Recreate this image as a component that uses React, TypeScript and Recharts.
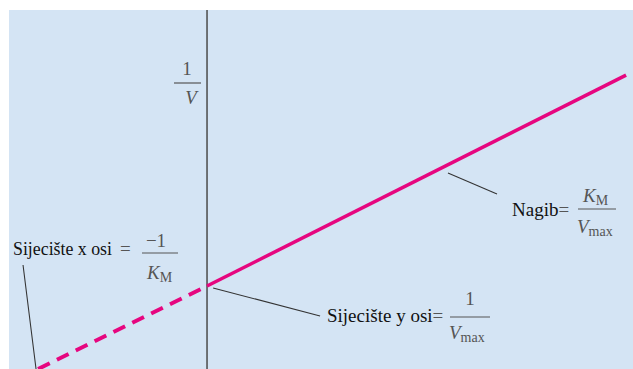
import React from 'react';
import { ComposedChart, Line, XAxis, YAxis, CartesianGrid, ReferenceLine, Customized } from 'recharts';

// Lineweaver-Burk plot, K_M = 1 unit on x, 1/V_max = 1 unit on y
const extrapolated = [
  { x: -1, y: 0 },
  { x: 0, y: 1 },
];
const measured = [
  { x: 0, y: 1 },
  { x: 2.48, y: 3.54 },
];
const X_DOMAIN = [-1.172, 2.521];
const Y_DOMAIN = [0, 4.325];

// leader lines from labels to the line (data coordinates)
const leaders = [
  [{ x: -1.089, y: 1.253 }, { x: -1.012, y: 0 }],
  [{ x: 0.036, y: 0.976 }, { x: 0.669, y: 0.639 }],
  [{ x: 1.426, y: 2.361 }, { x: 1.716, y: 2.108 }],
];

const PINK = '#e6067f';
const BG = '#d4e4f4';
const SERIF = "'Liberation Serif', 'Times New Roman', Times, serif";

const Labels = () => {
  const dark = '#111';
  const grey = '#555';
  const txt = { fontFamily: SERIF, fontSize: 19 };
  const it = { ...txt, fontStyle: 'italic' };
  const sub = { fontFamily: SERIF, fontSize: 14, fontStyle: 'normal' };
  return (
    <g>
      {/* 1/V */}
      <text x={187} y={75} textAnchor="middle" fill={grey} style={txt}>1</text>
      <line x1={174} x2={201} y1={83} y2={83} stroke={grey} strokeWidth={1.2} />
      <text x={191} y={104} textAnchor="middle" fill={grey} style={it}>V</text>

      {/* x intercept */}
      <text x={13} y={255} fill={dark} style={txt} textLength={99} lengthAdjust="spacingAndGlyphs">Sijecište x osi</text>
      <text x={120} y={255} fill={grey} style={txt}>=</text>
      <text x={156} y={247} textAnchor="middle" fill={grey} style={txt}>−1</text>
      <line x1={142} x2={178} y1={253} y2={253} stroke={grey} strokeWidth={1.2} />
      <text x={147} y={279} fill={grey} style={it}>K<tspan style={sub} dy={3}>M</tspan></text>

      {/* y intercept */}
      <text x={327} y={322} fill={dark} style={txt}>Sijecište y osi<tspan fill={grey}>=</tspan></text>
      <text x={470} y={305} textAnchor="middle" fill={grey} style={txt}>1</text>
      <line x1={450} x2={490} y1={317} y2={317} stroke={grey} strokeWidth={1.2} />
      <text x={449} y={339} fill={grey} style={it}>V<tspan style={sub} dy={3}>max</tspan></text>

      {/* slope */}
      <text x={512} y={216} fill={dark} style={txt}>Nagib<tspan fill={grey}>=</tspan></text>
      <text x={583} y={202} fill={grey} style={it}>K<tspan style={sub} dy={3}>M</tspan></text>
      <line x1={578} x2={616} y1={209} y2={209} stroke={grey} strokeWidth={1.2} />
      <text x={577} y={233} fill={grey} style={it}>V<tspan style={sub} dy={3}>max</tspan></text>
    </g>
  );
};

export default function App() {
  return (
    <div style={{ position: 'absolute', left: 0, top: 0 }}>
      <ComposedChart width={633} height={369} margin={{ top: 10, right: 0, left: 9, bottom: 0 }}>
        <CartesianGrid horizontal={false} vertical={false} fill={BG} stroke="none" />
        <XAxis type="number" dataKey="x" domain={X_DOMAIN} allowDataOverflow hide />
        <YAxis type="number" dataKey="y" domain={Y_DOMAIN} allowDataOverflow hide />
        <ReferenceLine x={0} stroke="#4a4a4a" strokeWidth={1.5} />
        {leaders.map((seg, i) => (
          <ReferenceLine key={i} segment={seg} stroke="#333" strokeWidth={1.1} />
        ))}
        <Line data={extrapolated} dataKey="y" type="linear" stroke={PINK} strokeWidth={4}
          strokeDasharray="13 8" dot={false} isAnimationActive={false} />
        <Line data={measured} dataKey="y" type="linear" stroke={PINK} strokeWidth={3.5}
          dot={false} isAnimationActive={false} />
        <Customized component={Labels} />
      </ComposedChart>
    </div>
  );
}
